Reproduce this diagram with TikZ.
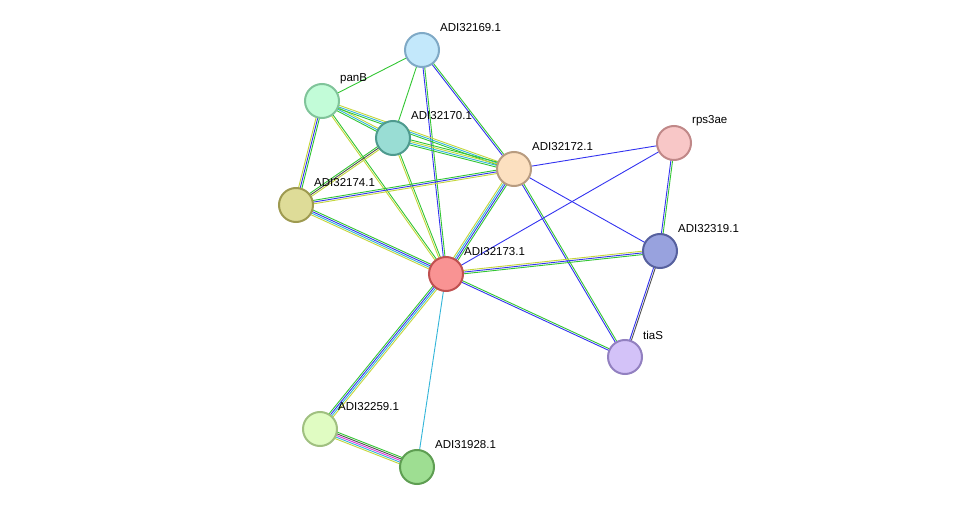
\documentclass[tikz,border=0pt]{standalone}
\usepackage{fontspec}
\setmainfont{Liberation Sans}
\usetikzlibrary{calc}
\pgfdeclarelayer{bg}\pgfsetlayers{bg,main}
\definecolor{eg}{HTML}{33C633}
\definecolor{eb}{HTML}{3333F0}
\definecolor{ey}{HTML}{C4D63A}
\definecolor{ec}{HTML}{33B5D9}
\definecolor{em}{HTML}{E033E0}
\definecolor{ek}{HTML}{505050}
\newcommand\myedge[4]{%
  \foreach \cc [count=\i] in {#4} {%
    \pgfmathsetmacro\oo{(\i-(#3+1)/2)*1.7}%
    \draw[draw=\cc, line width=0.9pt] ($(#1)!\oo pt!90:(#2)$) -- ($(#2)!\oo pt!-90:(#1)$);
  }}
\tikzset{prot/.style={circle, minimum size=34pt, inner sep=0pt, line width=2pt},
  lab/.style={anchor=west, font=\fontsize{11.5}{12}\selectfont, inner sep=0pt}}
\begin{document}
\begin{tikzpicture}[x=1pt,y=-1pt]
\useasboundingbox (0,0) rectangle (975,513);
\newcommand\prot[6]{%
  \definecolor{f#1}{HTML}{#4}\definecolor{s#1}{HTML}{#5}%
  \node[prot, fill=f#1, draw=s#1] (#1) at (#2,#3) {};
  \node[lab] (l#1) at (#2+18,#3-22) {#6};}
\prot{n169}{422}{50}{C3E8FB}{7FA9C6}{ADI32169.1}
\prot{panB}{322}{101}{C2FCD8}{80C49A}{panB}
\prot{n170}{393}{138}{99DDD4}{4E9A8E}{ADI32170.1}
\prot{n172}{514}{169}{FCE0C0}{B89C80}{ADI32172.1}
\prot{n174}{296}{205}{DEDC98}{9E9A50}{ADI32174.1}
\prot{rps}{674}{143}{F8C7C7}{C08888}{rps3ae}
\prot{n319}{660}{251}{98A2DE}{56609E}{ADI32319.1}
\prot{n173}{446}{274}{F99393}{C05050}{ADI32173.1}
\prot{tia}{625}{357}{D3C2F8}{9280C0}{tiaS}
\prot{n259}{320}{429}{E0FCC2}{A0C080}{ADI32259.1}
\prot{n928}{417}{467}{9EDE92}{5E9E52}{ADI31928.1}
\begin{pgfonlayer}{bg}
\myedge{n169}{panB}{1}{eg}
\myedge{n169}{n170}{1}{eg}
\myedge{n169}{n173}{2}{eb,eg}
\myedge{n169}{n172}{2}{eb,eg}
\myedge{panB}{n170}{3}{eg,ec,ey}
\myedge{panB}{n172}{3}{eg,ec,ey}
\myedge{panB}{n174}{3}{ey,eb,eg}
\myedge{panB}{n173}{2}{ey,eg}
\myedge{n170}{n174}{3}{eg,ek,ey}
\myedge{n170}{n172}{4}{eg,ec,ey,eg}
\myedge{n170}{n173}{2}{ey,eg}
\myedge{n174}{n172}{3}{ey,eb,eg}
\myedge{n174}{n173}{4}{ey,ec,eb,eg}
\myedge{n172}{n173}{4}{ey,ec,eb,eg}
\myedge{n172}{rps}{1}{eb}
\myedge{n172}{n319}{1}{eb}
\myedge{n172}{tia}{2}{eb,eg}
\myedge{n173}{rps}{1}{eb}
\myedge{n173}{n319}{3}{eg,eb,ey}
\myedge{n173}{tia}{2}{eb,eg}
\myedge{rps}{n319}{2}{eb,eg}
\myedge{n319}{tia}{2}{eb,ek}
\myedge{n173}{n259}{4}{eg,eb,ec,ey}
\myedge{n173}{n928}{1}{ec}
\myedge{n259}{n928}{5}{ey,ec,em,ek,eg}
\end{pgfonlayer}
\end{tikzpicture}
\end{document}
